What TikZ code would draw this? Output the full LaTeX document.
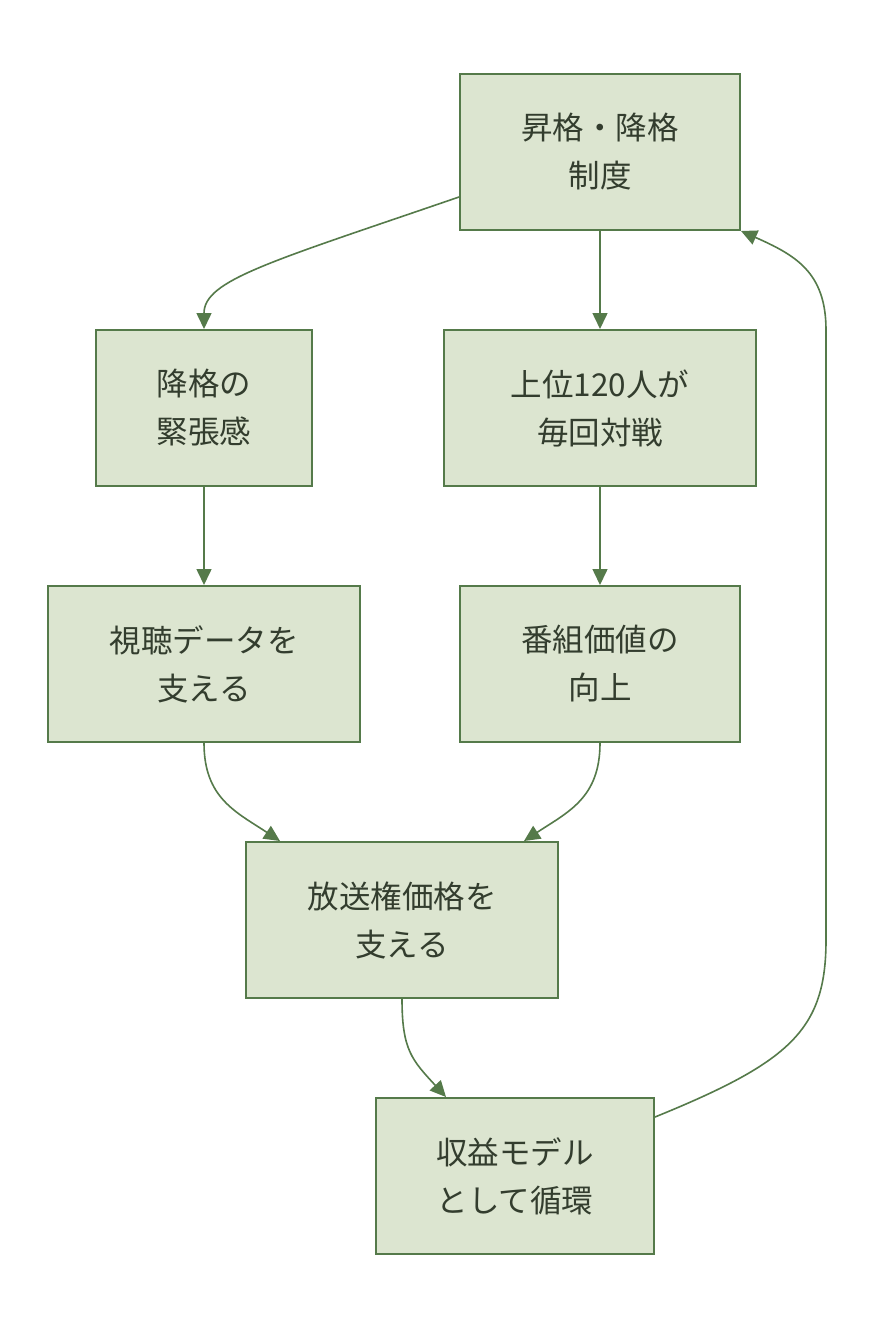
\documentclass[tikz,border=0pt]{standalone}
\usepackage{fontspec}
\setmainfont{Noto Sans CJK JP}
\usetikzlibrary{arrows.meta}
\definecolor{boxfill}{HTML}{DCE5D0}
\definecolor{boxline}{HTML}{557A4A}
\definecolor{txt}{HTML}{333D2E}
\tikzset{
  stepbox/.style={draw=boxline, fill=boxfill, line width=2pt, text=txt, align=center, inner sep=0pt,
    font=\fontsize{31.5}{48}\selectfont},
  conn/.style={draw=boxline, line width=1.6pt, -{Triangle[length=16pt,width=15pt]}}
}
\begin{document}
\begin{tikzpicture}[x=1pt,y=-1pt]
\useasboundingbox[fill=white] (0,0) rectangle (874,1332);
\node[stepbox, minimum width=280pt, minimum height=156pt] (A) at (600,152) {昇格・降格\\制度};
\node[stepbox, minimum width=216pt, minimum height=156pt] (B) at (204,408) {降格の\\緊張感};
\node[stepbox, minimum width=312pt, minimum height=156pt] (C) at (600,408) {上位120人が\\毎回対戦};
\node[stepbox, minimum width=312pt, minimum height=156pt] (D) at (204,664) {視聴データを\\支える};
\node[stepbox, minimum width=280pt, minimum height=156pt] (E) at (600,664) {番組価値の\\向上};
\node[stepbox, minimum width=312pt, minimum height=156pt] (F) at (402,920) {放送権価格を\\支える};
\node[stepbox, minimum width=278pt, minimum height=156pt] (G) at (515,1176) {収益モデル\\として循環};
\coordinate (ab) at ([yshift=-45pt]A.west);
\coordinate (ga) at ([yshift=-20pt]G.north east);
\draw[conn] (ab) .. controls (270,262) and (204,280) .. (B.north);
\draw[conn] (A.south) -- (C.north);
\draw[conn] (B.south) -- (D.north);
\draw[conn] (C.south) -- (E.north);
\draw[conn] (D.south) .. controls (204,798) and (236,812) .. ([xshift=-122pt]F.north);
\draw[conn] (E.south) .. controls (600,798) and (568,812) .. ([xshift=122pt]F.north);
\draw[conn] (F.south) .. controls (402,1050) and (412,1060) .. ([xshift=-69pt]G.north);
\draw[conn] (ga) .. controls (790,1062) and (826,1030) .. (826,940) -- (826,330) .. controls (826,272) and (795,255) .. (A.south east);
\end{tikzpicture}
\end{document}
